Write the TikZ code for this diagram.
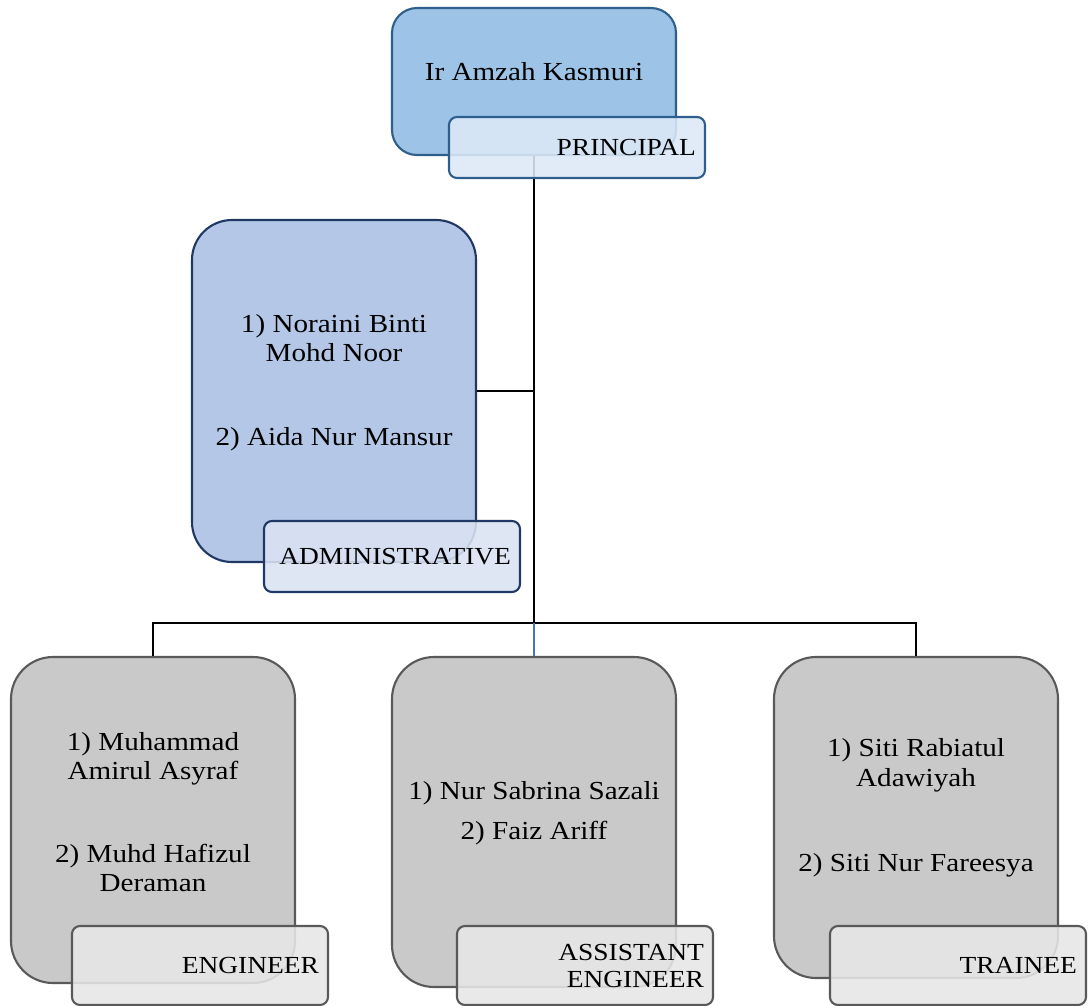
\documentclass[tikz,border=0pt]{standalone}
\usepackage{fontspec}
\setmainfont{Liberation Serif}[FakeStretch=1.12]
\definecolor{topfill}{HTML}{9DC3E6}
\definecolor{topline}{HTML}{2E5F8C}
\definecolor{toplab}{HTML}{DCE9F6}
\definecolor{admfill}{HTML}{B4C7E7}
\definecolor{admline}{HTML}{1F3864}
\definecolor{admlab}{HTML}{DAE3F3}
\definecolor{grayfill}{HTML}{C9C9C9}
\definecolor{grayline}{HTML}{595959}
\definecolor{graylab}{HTML}{E7E7E7}
\definecolor{bluelink}{HTML}{4472C4}
\newcommand\nmfont{\fontsize{26}{29.5}\selectfont}
\newcommand\lbfont{\fontsize{24.5}{27}\selectfont}
\begin{document}
\begin{tikzpicture}[x=1pt,y=-1pt,
  box/.style={rectangle, rounded corners=#1, line width=2.1pt, inner sep=0pt},
  lbl/.style={rectangle, rounded corners=8pt, line width=2.1pt, minimum width=256pt,
    minimum height=#1, text width=238pt, align=right, inner xsep=9pt, inner ysep=0pt,
    fill opacity=0.88, text opacity=1, font=\lbfont},
  txt/.style={align=center, font=\nmfont, inner sep=0pt},
  link/.style={line width=2.2pt, black}
]
\useasboundingbox (0,0) rectangle (1088,1005);
\fill[white] (0,0) rectangle (1088,1005);

% boxes
\node[box=25pt, fill=topfill, draw=topline, minimum width=284pt, minimum height=147pt] (top) at (534,81.5) {};
\node[box=40pt, fill=admfill, draw=admline, minimum width=284pt, minimum height=342pt] (adm) at (334,391) {};
\node[box=42pt, fill=grayfill, draw=grayline, minimum width=284pt, minimum height=326pt] (eng) at (153,820) {};
\node[box=42pt, fill=grayfill, draw=grayline, minimum width=284pt, minimum height=330pt] (ast) at (534,822) {};
\node[box=42pt, fill=grayfill, draw=grayline, minimum width=284pt, minimum height=321pt] (trn) at (916,817.5) {};

% texts
\node[txt] (topt) at (534,72) {Ir Amzah Kasmuri};
\node[txt] (admt) at (334,382.5) {1) Noraini Binti\\Mohd Noor\\[54pt]2) Aida Nur Mansur};
\node[txt] (engt) at (153,812) {1) Muhammad\\Amirul Asyraf\\[53pt]2) Muhd Hafizul\\Deraman};
\node[txt] (astt) at (534,813) {1) Nur Sabrina Sazali\\[10pt]2) Faiz Ariff};
\node[txt] (trnt) at (916,808) {1) Siti Rabiatul\\Adawiyah\\[56pt]2) Siti Nur Fareesya};

% connectors
\coordinate (bar) at (534,623);
\draw[link] (top.south) -- (bar);
\draw[link] (adm.east) -- (adm.east -| top.south);
\draw[link] (eng.north) |- (bar) -| (trn.north);
\draw[line width=1.5pt, bluelink] (bar) -- (ast.north);

% role labels
\node[lbl=61pt, fill=toplab, draw=topline] (topl) at (577,147.5) {PRINCIPAL};
\node[lbl=71pt, fill=admlab, draw=admline] (adml) at (392,556.5) {ADMINISTRATIVE};
\node[lbl=79pt, fill=graylab, draw=grayline] (engl) at (200,965.5) {ENGINEER};
\node[lbl=79pt, fill=graylab, draw=grayline] (astl) at (585,965.5) {ASSISTANT\\ENGINEER};
\node[lbl=79pt, fill=graylab, draw=grayline] (trnl) at (958,965.5) {TRAINEE};
\end{tikzpicture}
\end{document}
